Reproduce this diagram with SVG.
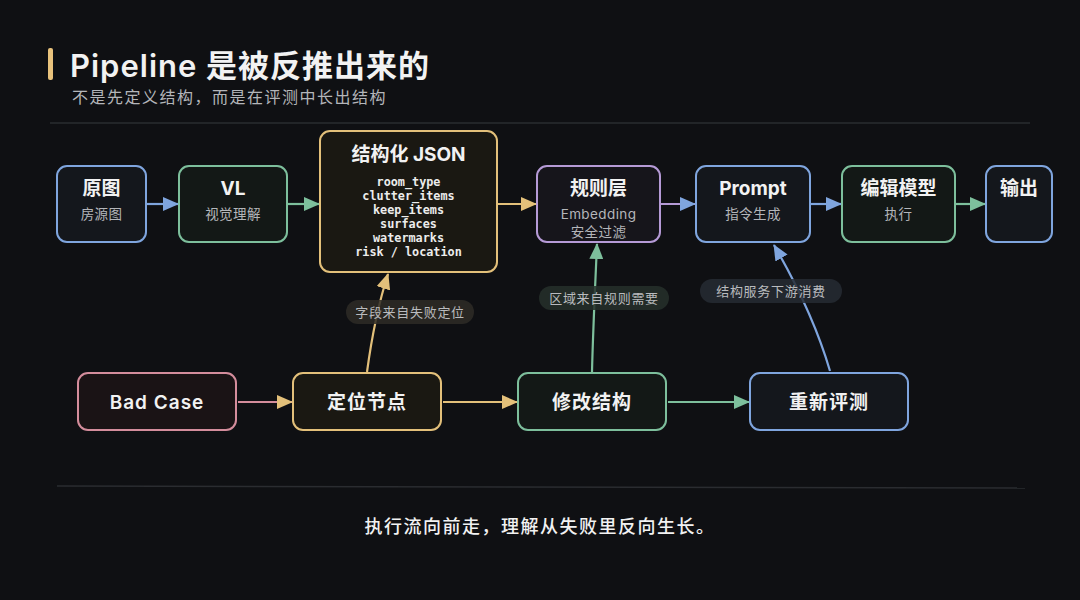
<svg xmlns="http://www.w3.org/2000/svg" width="1080" height="600" viewBox="0 0 1080 600">
<defs>
<style>
.bg{fill:#0f1013}
.t{font-family:"Inter","Noto Sans CJK SC",sans-serif;fill:#f2f2f2;font-weight:700;text-anchor:middle}
.s{font-family:"Inter","Noto Sans CJK SC",sans-serif;fill:#b4b6ba;font-size:13.5px;letter-spacing:0.4px;text-anchor:middle}
.m{font-family:"DejaVu Sans Mono","Liberation Mono",monospace;fill:#ececec;font-size:11.8px;font-weight:700;text-anchor:middle}
.node{stroke-width:2}
.blue{stroke:#7fa5de;fill:#14171c}
.green{stroke:#7dbf9c;fill:#131816}
.yellow{stroke:#e3c07a;fill:#1a1812}
.purple{stroke:#b59ad6;fill:#16151b}
.pink{stroke:#d48d9c;fill:#1a1315}
.c{fill:none;stroke-width:2.2}
.lbl{font-family:"Inter","Noto Sans CJK SC",sans-serif;fill:#b9bbbe;font-size:13px;letter-spacing:0.7px;text-anchor:middle}
.b{font-size:19px;letter-spacing:1px}
.med{font-weight:600}
</style>
<marker id="aB" markerWidth="16" markerHeight="14" refX="15" refY="7" orient="auto" markerUnits="userSpaceOnUse"><path d="M0,0 L16,7 L0,14 Z" fill="#7fa5de"/></marker>
<marker id="aG" markerWidth="16" markerHeight="14" refX="15" refY="7" orient="auto" markerUnits="userSpaceOnUse"><path d="M0,0 L16,7 L0,14 Z" fill="#7dbf9c"/></marker>
<marker id="aY" markerWidth="16" markerHeight="14" refX="15" refY="7" orient="auto" markerUnits="userSpaceOnUse"><path d="M0,0 L16,7 L0,14 Z" fill="#e3c07a"/></marker>
</defs>
<rect class="bg" x="0" y="0" width="1080" height="600"/>

<g id="header">
<rect x="48" y="48" width="5" height="32" rx="2" fill="#e8c27c"/>
<text x="70" y="77" font-family="Inter,'Noto Sans CJK SC',sans-serif" font-size="31" font-weight="600" letter-spacing="1" fill="#f2f2f2">Pipeline 是被反推出来的</text>
<text x="72" y="103" font-family="Inter,'Noto Sans CJK SC',sans-serif" font-size="16" letter-spacing="1.5" fill="#b4b6ba">不是先定义结构，而是在评测中长出结构</text>
<line x1="50" y1="123" x2="1030" y2="123" stroke="#2a2c30" stroke-width="1.5"/>
</g>

<g id="connectors">
<line class="c" x1="147" y1="204" x2="178" y2="204" stroke="#7fa5de" marker-end="url(#aB)"/>
<line class="c" x1="288" y1="204" x2="319" y2="204" stroke="#7dbf9c" marker-end="url(#aG)"/>
<line class="c" x1="498" y1="204" x2="536" y2="204" stroke="#e3c07a" marker-end="url(#aY)"/>
<line class="c" x1="661" y1="204" x2="695" y2="204" stroke="#b59ad6" marker-end="url(#aB)"/>
<line class="c" x1="811" y1="204" x2="841" y2="204" stroke="#7fa5de" marker-end="url(#aB)"/>
<line class="c" x1="956" y1="204" x2="985" y2="204" stroke="#7dbf9c" marker-end="url(#aG)"/>

<line class="c" x1="238" y1="402" x2="292" y2="402" stroke="#d48d9c" marker-end="url(#aY)"/>
<line class="c" x1="443" y1="402" x2="517" y2="402" stroke="#e3c07a" marker-end="url(#aY)"/>
<line class="c" x1="668" y1="402" x2="749" y2="402" stroke="#7dbf9c" marker-end="url(#aG)"/>

<path class="c" d="M367,372 C372,335 378,305 388,274" stroke="#e3c07a" stroke-width="1.6" marker-end="url(#aY)"/>
<path class="c" d="M592,372 C593,330 595,290 597,244" stroke="#7dbf9c" stroke-width="1.6" marker-end="url(#aG)"/>
<path class="c" d="M830,371 C818,330 800,290 774,245" stroke="#7fa5de" stroke-width="1.6" marker-end="url(#aB)"/>

<g id="lbl1">
<rect x="346" y="300" width="128" height="24" rx="12" fill="#2e2c27" fill-opacity="0.85"/>
<text class="lbl" x="410" y="317">字段来自失败定位</text>
</g>
<g id="lbl2">
<rect x="539" y="286" width="130" height="24" rx="12" fill="#26302b" fill-opacity="0.85"/>
<text class="lbl" x="604" y="303">区域来自规则需要</text>
</g>
<g id="lbl3">
<rect x="700" y="279" width="142" height="24" rx="12" fill="#262b34" fill-opacity="0.85"/>
<text class="lbl" x="771" y="296">结构服务下游消费</text>
</g>
</g>

<g id="n-yuantu">
<rect class="node blue" x="57" y="166" width="89" height="76" rx="10"/>
<text class="t" x="101.5" y="195" font-size="19">原图</text>
<text class="s" x="101.5" y="219">房源图</text>
</g>
<g id="n-vl">
<rect class="node green" x="179" y="166" width="108" height="76" rx="10"/>
<text class="t" x="233" y="195" font-size="19">VL</text>
<text class="s" x="233" y="219">视觉理解</text>
</g>
<g id="n-json">
<rect class="node yellow" x="320" y="131" width="177" height="141" rx="10"/>
<text class="t" x="408.5" y="161" font-size="19">结构化 JSON</text>
<text class="m" x="408.5" y="186">room_type</text>
<text class="m" x="408.5" y="200">clutter_items</text>
<text class="m" x="408.5" y="214">keep_items</text>
<text class="m" x="408.5" y="228">surfaces</text>
<text class="m" x="408.5" y="242">watermarks</text>
<text class="m" x="408.5" y="256">risk / location</text>
</g>
<g id="n-rule">
<rect class="node purple" x="537" y="166" width="123" height="76" rx="10"/>
<text class="t" x="598.5" y="195" font-size="19">规则层</text>
<text class="s" x="598.5" y="219">Embedding</text>
<text class="s" x="598.5" y="237">安全过滤</text>
</g>
<g id="n-prompt">
<rect class="node blue" x="696" y="166" width="114" height="76" rx="10"/>
<text class="t" x="753" y="195" font-size="19">Prompt</text>
<text class="s" x="753" y="219">指令生成</text>
</g>
<g id="n-edit">
<rect class="node green" x="842" y="166" width="113" height="76" rx="10"/>
<text class="t" x="898.5" y="195" font-size="19">编辑模型</text>
<text class="s" x="898.5" y="219">执行</text>
</g>
<g id="n-out">
<rect class="node blue" x="986" y="166" width="66" height="76" rx="10"/>
<text class="t" x="1019" y="195" font-size="19">输出</text>
</g>

<g id="n-bad">
<rect class="node pink" x="78" y="373" width="158" height="57" rx="10"/>
<text class="t b med" x="157" y="409">Bad Case</text>
</g>
<g id="n-locate">
<rect class="node yellow" x="293" y="373" width="148" height="57" rx="10"/>
<text class="t b" x="367" y="409">定位节点</text>
</g>
<g id="n-modify">
<rect class="node green" x="518" y="373" width="148" height="57" rx="10"/>
<text class="t b" x="592" y="409">修改结构</text>
</g>
<g id="n-reeval">
<rect class="node blue" x="750" y="373" width="158" height="57" rx="10"/>
<text class="t b" x="829" y="409">重新评测</text>
</g>

<g id="footer">
<line x1="57" y1="486" x2="1025" y2="488" stroke="#2a2c30" stroke-width="1.5"/>
<text x="540" y="533" text-anchor="middle" font-family="Inter,'Noto Sans CJK SC',sans-serif" font-size="18" font-weight="500" letter-spacing="1.5" fill="#f2f2f2">执行流向前走，理解从失败里反向生长。</text>
</g>
</svg>
